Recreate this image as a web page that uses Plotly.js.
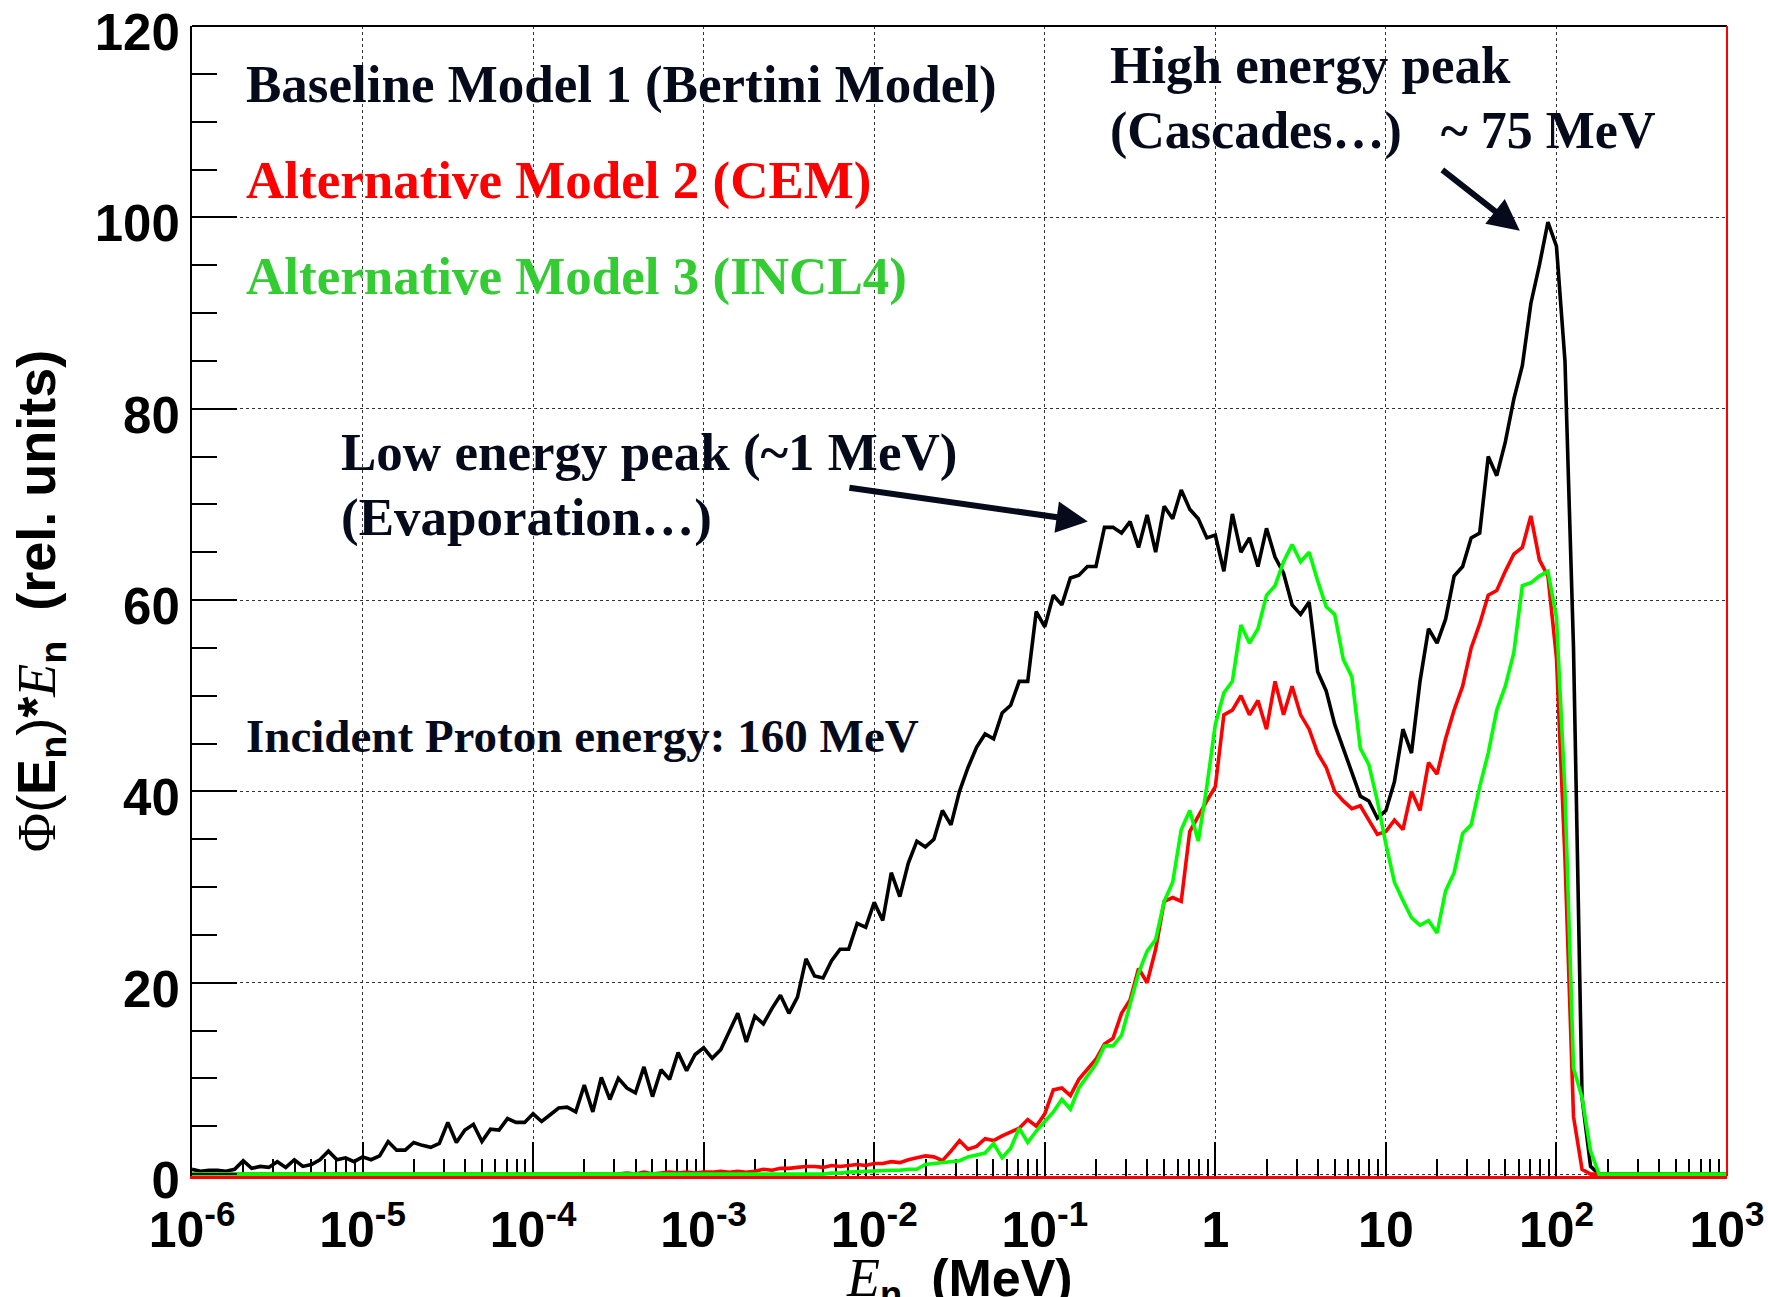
<!DOCTYPE html>
<html>
<head>
<meta charset="utf-8">
<script src="https://cdn.plot.ly/plotly-3.0.1.min.js"></script>
<style>
html, body { margin: 0; padding: 0; background: #ffffff; }
#chart { width: 1768px; height: 1297px; }
</style>
</head>
<body>
<div id="chart"></div>
<script>
// Histogram binning: log10(E / MeV) of the first bin and the bin width (decades)
const binStartExp = -6.0;
const binStepExp = 0.05;

// Baseline Model 1 (Bertini) : Phi(E)*E per bin
const bertini = [
  0.5,0.3,0.4,0.4,0.3,0.5,1.4,0.6,0.8,0.7,
  1.3,0.7,1.5,0.8,1.0,1.5,2.4,1.5,1.7,1.3,
  1.8,1.5,1.9,3.4,2.5,2.5,3.3,3.0,2.8,3.2,
  5.4,3.3,4.6,5.2,3.4,4.7,4.6,5.8,5.4,5.4,
  6.3,5.5,6.2,6.9,7.0,6.5,9.3,6.5,10.1,7.8,
  10.0,9.0,8.5,11.2,8.1,10.9,9.9,12.7,10.8,12.5,
  13.2,12.1,13.0,15.0,16.8,13.8,16.5,15.7,17.3,18.7,
  16.8,18.5,22.5,20.7,20.5,22.3,23.5,23.5,26.2,25.8,
  28.4,26.5,31.5,29.0,32.5,34.8,34.2,35.0,38.0,36.5,
  40.0,42.5,44.6,46.0,45.5,48.2,49.0,51.5,51.5,58.8,
  57.2,60.5,59.5,62.3,62.6,63.5,63.5,67.6,67.6,67.0,
  68.2,65.5,68.9,65.0,69.8,68.5,71.5,69.5,68.5,66.5,
  66.8,63.0,69.0,65.0,66.5,63.5,67.5,64.5,62.8,59.5,
  58.5,59.8,52.5,50.5,47.0,44.5,42.0,39.5,39.0,37.2,
  38.0,41.0,46.5,44.0,51.5,57.0,55.5,58.0,62.5,63.5,
  66.5,67.0,75.0,73.0,76.5,81.0,84.5,91.0,95.0,99.5,
  97.0,85.0,55.0,8.0,0.8,0,0,0,0,0,
  0,0,0,0,0,0,0,0,0,0,
  0
];

// Alternative Model 2 (CEM)
const cem = [
  0,0,0,0,0,0,0,0,0,0,
  0,0,0,0,0,0,0,0,0,0,
  0,0,0,0,0,0,0,0,0,0,
  0,0,0,0,0,0,0,0,0,0,
  0,0,0,0,0,0,0,0,0,0,
  0,0.1,0,0.2,0,0.1,0.2,0.1,0.2,0.1,
  0.2,0.2,0.3,0.2,0.3,0.2,0.3,0.5,0.4,0.6,
  0.6,0.7,0.8,0.8,0.7,0.9,0.8,0.9,1.0,0.9,
  1.1,1.1,1.3,1.2,1.5,1.7,1.9,1.8,1.4,2.4,
  3.5,2.6,2.9,3.7,3.5,4.0,4.4,4.8,5.7,5.0,
  6.3,8.8,9.0,8.2,9.9,11.0,12.0,13.6,14.2,16.8,
  18.2,21.5,20.0,23.5,28.5,28.9,28.5,35.8,37.5,39.0,
  40.5,48.0,48.5,50.0,48.0,49.5,46.5,51.5,48.0,51.0,
  48.0,46.5,44.0,42.5,40.0,39.0,38.2,38.5,37.0,35.5,
  35.8,37.0,36.0,40.0,38.0,43.0,41.8,45.5,48.5,51.0,
  55.0,57.5,60.5,61.0,63.0,64.8,65.5,68.8,64.2,62.5,
  54.0,33.0,6.0,0.5,0,0,0,0,0,0,
  0,0,0,0,0,0,0,0,0,0,
  0
];

// Alternative Model 3 (INCL4)
const incl4 = [
  0,0,0,0,0,0,0,0,0,0,
  0,0,0,0,0,0,0,0,0,0,
  0,0,0,0,0,0,0,0,0,0,
  0,0,0,0,0,0,0,0,0,0,
  0,0,0,0,0,0,0,0,0,0,
  0,0,0,0,0,0,0,0,0,0,
  0,0,0,0,0,0,0,0,0,0,
  0,0,0,0,0,0.1,0.1,0.2,0.25,0.3,
  0.3,0.4,0.4,0.4,0.5,0.5,1.0,1.1,1.2,1.3,
  1.4,1.8,2.0,2.2,3.2,1.7,2.7,4.8,3.3,4.5,
  5.5,6.5,7.8,6.8,9.0,10.2,11.5,13.4,13.4,14.5,
  17.7,21.0,23.3,24.5,28.5,30.5,36.0,38.0,34.8,40.5,
  47.0,50.3,51.5,57.4,55.5,57.0,60.5,61.5,64.0,65.8,
  64.0,65.0,62.0,59.3,58.5,53.8,52.0,44.5,42.8,39.0,
  34.5,30.5,28.6,26.8,26.0,26.5,25.2,29.6,31.5,35.6,
  36.5,40.5,44.0,48.5,51.0,54.5,61.5,61.8,62.5,63.0,
  58.2,40.0,11.1,8.0,2.4,0,0,0,0,0,
  0,0,0,0,0,0,0,0,0,0,
  0
];

// Axis ticks
const decadeExps = [-6, -5, -4, -3, -2, -1, 0, 1, 2, 3];
const decadeLabels = ['10<sup>-6</sup>', '10<sup>-5</sup>', '10<sup>-4</sup>', '10<sup>-3</sup>',
                      '10<sup>-2</sup>', '10<sup>-1</sup>', '1', '10', '10<sup>2</sup>', '10<sup>3</sup>'];
const minorMultipliers = [2, 3, 4, 5, 6, 7, 8, 9];
const yTickVals = [0, 20, 40, 60, 80, 100, 120];
const yTickLabels = ['0', '20', '40', '60', '80', '100', '120'];

// Series labels & annotations
const seriesNames = ['Baseline Model 1 (Bertini Model)', 'Alternative Model 2 (CEM)', 'Alternative Model 3 (INCL4)'];
const seriesColors = ['#000000', '#ff0000', '#00ff00'];
const labelColors = ['#060b1c', '#ff0000', '#33cc33'];
const highPeakMeV = 61;   // arrow target (MeV) for the high-energy peak
const highPeakVal = 98.6;
const lowPeakMeV = 0.179; // arrow target for the low-energy peak
const lowPeakVal = 68.2;

const xs = bertini.map((_, i) => Math.pow(10, binStartExp + i * binStepExp));
const minorVals = [];
decadeExps.slice(0, -1).forEach(e => minorMultipliers.forEach(m => minorVals.push(m * Math.pow(10, e))));

const seriesData = [bertini, cem, incl4];
const traces = seriesData.map((ys, k) => ({
  type: 'scatter', mode: 'lines', x: xs, y: ys, name: seriesNames[k],
  line: { color: seriesColors[k], width: 3.6, shape: 'linear' },
  hoverinfo: 'x+y+name'
}));

const serif = 'Liberation Serif, Times New Roman, serif';
const sans = 'Liberation Sans, Arial, sans-serif';

function ann(text, xp, yp, color, size) {
  return { text: text, xref: 'paper', yref: 'paper', x: xp, y: yp, xanchor: 'left', yanchor: 'middle',
           showarrow: false, borderpad: 0,
           font: { family: serif, size: size, color: color, weight: 'bold' } };
}

const annotations = [
  ann(seriesNames[0], 0.0345, 0.9488, labelColors[0], 53),
  ann(seriesNames[1], 0.0345, 0.8660, labelColors[1], 53),
  ann(seriesNames[2], 0.0345, 0.7820, labelColors[2], 53),
  ann('Incident Proton energy: 160 MeV', 0.0345, 0.3830, labelColors[0], 47),
  ann('Low energy peak (~1 MeV)', 0.0964, 0.6292, labelColors[0], 53),
  ann('(Evaporation\u2026)', 0.0964, 0.5728, labelColors[0], 53),
  ann('High energy peak', 0.5974, 0.9657, labelColors[0], 53),
  ann('(Cascades\u2026)\u00a0\u00a0 ~ 75 MeV', 0.5974, 0.9085, labelColors[0], 52),
  { text: '', xref: 'x', yref: 'y', x: Math.log10(lowPeakMeV), y: lowPeakVal, ax: -240, ay: -34,
    showarrow: true, arrowhead: 2, arrowsize: 1.05, arrowwidth: 6, arrowcolor: '#060b1c', standoff: 0 },
  { text: '', xref: 'x', yref: 'y', x: Math.log10(highPeakMeV), y: highPeakVal, ax: -79, ay: -62,
    showarrow: true, arrowhead: 2, arrowsize: 1.05, arrowwidth: 6, arrowcolor: '#060b1c', standoff: 0 },
  { text: '<span style="font-family:Liberation Serif;font-style:italic;font-weight:normal;font-size:54px">E</span><sub>n</sub>\u00a0\u00a0(MeV)',
    xref: 'paper', yref: 'paper', x: 0.5, y: -0.0617, xanchor: 'center', yanchor: 'top', showarrow: false,
    borderpad: 0, font: { family: sans, size: 52, color: '#000', weight: 'bold' } }
];

const layout = {
  width: 1768, height: 1297,
  margin: { l: 192, r: 41, t: 26, b: 121, pad: 0 },
  paper_bgcolor: '#ffffff', plot_bgcolor: '#ffffff',
  showlegend: false,
  xaxis: {
    type: 'log', range: [-6, 3], automargin: false,
    tickmode: 'array', tickvals: decadeExps.map(e => Math.pow(10, e)), ticktext: decadeLabels,
    ticks: 'inside', ticklen: 34, tickwidth: 2, tickcolor: '#000',
    showgrid: true, gridcolor: '#333333', gridwidth: 1, griddash: 'dot',
    showline: true, linecolor: '#ff0000', linewidth: 3, layer: 'below traces',
    zeroline: false, ticklabelstandoff: 8, ticklabeloverflow: 'allow',
    tickfont: { family: sans, size: 50, color: '#000', weight: 'bold' },
    minor: { tickmode: 'array', tickvals: minorVals, ticks: 'inside', ticklen: 17, tickwidth: 1.5,
             tickcolor: '#000', showgrid: false }
  },
  yaxis: {
    range: [-0.2, 120], automargin: false,
    tickmode: 'array', tickvals: yTickVals, ticktext: yTickLabels,
    ticks: 'inside', ticklen: 45, tickwidth: 2, tickcolor: '#000',
    showgrid: true, gridcolor: '#333333', gridwidth: 1, griddash: 'dot',
    showline: true, linecolor: '#000', linewidth: 2, zeroline: false,
    ticklabelstandoff: 0, ticklabelshift: 6, ticklabeloverflow: 'allow',
    tickfont: { family: sans, size: 51, color: '#000', weight: 'bold' },
    minor: { dtick: 5, tick0: 0, ticks: 'inside', ticklen: 25, tickwidth: 2, tickcolor: '#000', showgrid: false },
    title: {
      text: '<span style="font-family:Liberation Serif">\u03a6</span>(<b>E</b><sub><b>n</b></sub>)<b>*</b><span style="font-family:Liberation Serif;font-style:italic">E</span><sub><b>n</b></sub>\u00a0\u00a0<b>(rel. units)</b>',
      font: { family: sans, size: 54, color: '#000' },
      standoff: 22
    }
  },
  shapes: [
    { type: 'line', xref: 'paper', yref: 'paper', x0: 0, x1: 1, y0: 1, y1: 1, line: { color: '#000', width: 2 } },
    { type: 'line', xref: 'paper', yref: 'paper', x0: 1, x1: 1, y0: 0, y1: 1, line: { color: '#ff0000', width: 2 } }
  ],
  annotations: annotations
};

Plotly.newPlot('chart', traces, layout, { displayModeBar: false, responsive: false });
</script>
</body>
</html>
